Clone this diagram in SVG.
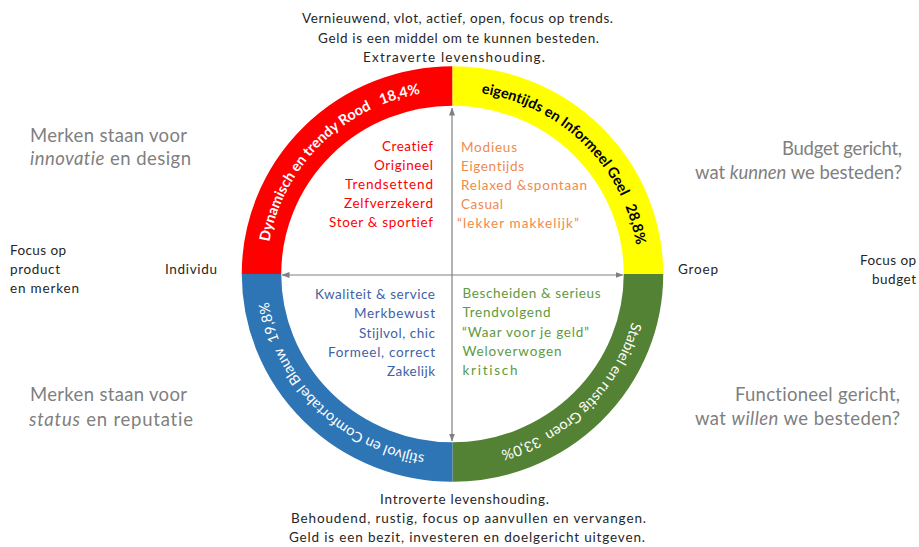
<svg xmlns="http://www.w3.org/2000/svg" xmlns:xlink="http://www.w3.org/1999/xlink" width="919" height="547" viewBox="0 0 919 547">
<style>
text{font-family:Lato,"Open Sans","Liberation Sans",sans-serif;font-variant-ligatures:none;}
.sm{font-size:13.5px;fill:#262626;}
.big{font-size:18.5px;fill:#7f7f7f;}
.q{font-size:13.5px;}
.ring{fill:none;stroke-width:39.5;}
.rt{font-size:14.5px;}
.ax{stroke:#808080;stroke-width:1.2;fill:none;marker-start:url(#ah);marker-end:url(#ah);}
</style>
<defs>
<marker id="ah" viewBox="0 0 8 6" refX="7.5" refY="3" markerWidth="8" markerHeight="6" markerUnits="userSpaceOnUse" orient="auto-start-reverse">
<path d="M0,0 L8,3 L0,6 z" fill="#808080"/>
</marker>
<path id="pRed" d="M 266.5 274 A 186 183 0 0 1 452.5 91"/>
<path id="pYel" d="M 452.5 91 A 186 183 0 0 1 638.5 274"/>
<path id="pGrn" d="M 638.5 274 A 186 183 0 0 1 452.5 457"/>
<path id="pBlu" d="M 452.5 457 A 186 183 0 0 1 266.5 274"/>
</defs>
<rect width="919" height="547" fill="#ffffff"/>

<g id="node-red">
<path class="ring" stroke="#ff0000" d="M 261.5 274 A 191 188 0 0 1 452.5 86"/>
<text class="rt" font-weight="bold" fill="#ffffff"><textPath xlink:href="#pRed" href="#pRed" startOffset="50%" text-anchor="middle">Dynamisch en trendy Rood&#160;&#160;&#160;18,4%</textPath></text>
<g class="q" fill="#ff0000">
<text x="382" y="151" textLength="51">Creatief</text>
<text x="374" y="170" textLength="59">Origineel</text>
<text x="345" y="189" textLength="88">Trendsettend</text>
<text x="344" y="208" textLength="89">Zelfverzekerd</text>
<text x="329" y="227" textLength="104">Stoer &amp; sportief</text>
</g>
</g>

<g id="node-yellow">
<path class="ring" stroke="#ffff00" d="M 452.5 86 A 191 188 0 0 1 643.5 274"/>
<text class="rt" font-weight="bold" fill="#000000"><textPath xlink:href="#pYel" href="#pYel" startOffset="50%" text-anchor="middle">eigentijds en Informeel Geel&#160;&#160;&#160;28,8%</textPath></text>
<g class="q" fill="#f08a4b">
<text x="461" y="152" textLength="56">Modieus</text>
<text x="461" y="171" textLength="63">Eigentijds</text>
<text x="461" y="190" textLength="126">Relaxed &amp;spontaan</text>
<text x="461" y="209" textLength="42">Casual</text>
<text x="457" y="228" textLength="122">“lekker makkelijk”</text>
</g>
</g>

<g id="node-green">
<path class="ring" stroke="#548235" d="M 643.5 274 A 191 188 0 0 1 452.5 462"/>
<text class="rt" fill="#ffffff" font-size="15"><textPath xlink:href="#pGrn" href="#pGrn" startOffset="50%" text-anchor="middle">Stabiel en rustig Groen&#160;&#160;33,0%</textPath></text>
<g class="q" fill="#5e9a3e">
<text x="462.5" y="298" textLength="138">Bescheiden &amp; serieus</text>
<text x="462.5" y="317" textLength="88">Trendvolgend</text>
<text x="462" y="337" textLength="127">“Waar voor je geld”</text>
<text x="462.5" y="356" textLength="99">Weloverwogen</text>
<text x="462.5" y="375" textLength="55">kritisch</text>
</g>
</g>

<g id="node-blue">
<path class="ring" stroke="#2e75b6" d="M 452.5 462 A 191 188 0 0 1 261.5 274"/>
<text class="rt" fill="#ffffff"><textPath xlink:href="#pBlu" href="#pBlu" startOffset="50%" text-anchor="middle">stijlvol en Comfortabel Blauw&#160;&#160;19,8%</textPath></text>
<g class="q" fill="#3f5fa6">
<text x="315" y="299" textLength="120">Kwaliteit &amp; service</text>
<text x="354" y="318" textLength="81">Merkbewust</text>
<text x="359" y="338" textLength="76">Stijlvol, chic</text>
<text x="328" y="357" textLength="107">Formeel, correct</text>
<text x="387" y="376" textLength="48">Zakelijk</text>
</g>
</g>

<g id="connectors">
<line class="ax" x1="452" y1="108" x2="452" y2="441"/>
<line class="ax" x1="282" y1="275" x2="623" y2="275"/>
</g>

<g id="labels">
<g id="top-label" class="sm">
<text x="302" y="23" textLength="311">Vernieuwend, vlot, actief, open, focus op trends.</text>
<text x="318" y="42.5" textLength="281">Geld is een middel om te kunnen besteden.</text>
<text x="363" y="61.5" textLength="182">Extraverte levenshouding.</text>
</g>
<g id="bottom-label" class="sm">
<text x="380" y="504" textLength="169">Introverte levenshouding.</text>
<text x="291" y="523" textLength="355">Behoudend, rustig, focus op aanvullen en vervangen.</text>
<text x="289" y="542" textLength="356">Geld is een bezit, investeren en doelgericht uitgeven.</text>
</g>
<g id="left-labels">
<text class="big" x="30" y="142" textLength="157">Merken staan voor</text>
<text class="big" x="30" y="165" textLength="161"><tspan font-style="italic">innovatie</tspan> en design</text>
<text class="big" x="30" y="401" textLength="157">Merken staan voor</text>
<text class="big" x="29" y="426" textLength="164"><tspan font-style="italic">status</tspan> en reputatie</text>
<text class="sm" x="10" y="255" textLength="56">Focus op</text>
<text class="sm" x="10" y="274" textLength="50">product</text>
<text class="sm" x="10" y="293" textLength="69">en merken</text>
<text class="sm" x="165" y="274" textLength="52">Individu</text>
</g>
<g id="right-labels">
<text class="big" x="782" y="155" textLength="120">Budget gericht,</text>
<text class="big" x="695" y="179" textLength="207">wat <tspan font-style="italic">kunnen</tspan> we besteden?</text>
<text class="big" x="735" y="401" textLength="165">Functioneel gericht,</text>
<text class="big" x="695" y="425" textLength="205">wat <tspan font-style="italic">willen</tspan> we besteden?</text>
<text class="sm" x="678" y="274" textLength="40">Groep</text>
<text class="sm" x="860" y="265" textLength="56">Focus op</text>
<text class="sm" x="872" y="284" textLength="44">budget</text>
</g>
</g>
</svg>
